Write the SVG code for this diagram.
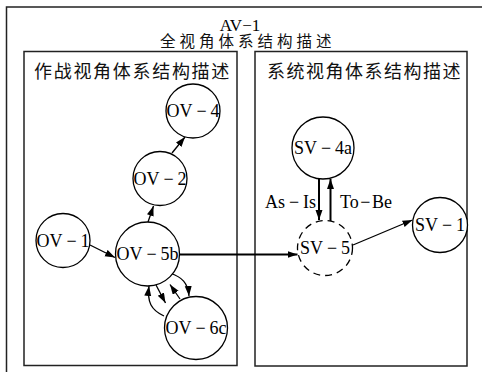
<svg xmlns="http://www.w3.org/2000/svg" width="482" height="372" viewBox="0 0 482 372">
<style>
.box{fill:none;stroke:#222;stroke-width:1.5}
.node{fill:#fff;stroke:#000;stroke-width:1.3}
.dash{stroke-dasharray:7,5}
.lbl{font-family:"Liberation Serif","Noto Sans CJK SC",serif;font-size:18px;fill:#000}
.cjk{font-family:"Noto Sans CJK SC","Noto Sans CJK JP",sans-serif;font-size:18px;fill:#111}
.e{fill:none;stroke:#000;stroke-width:1.3}
.eb{fill:none;stroke:#000;stroke-width:2}
</style>
<defs>
<marker id="ah" markerUnits="userSpaceOnUse" markerWidth="11" markerHeight="8" refX="10" refY="3.5" orient="auto">
<path d="M0,0 L10,3.5 L0,7 z" fill="#000"/>
</marker>
</defs>
<rect x="0" y="0" width="482" height="372" fill="#fff"/>
<g id="av1">
<rect class="box" x="6.5" y="7" width="490" height="380"/>
<text class="lbl" x="240" y="31" text-anchor="middle" style="font-size:17px">AV−1</text>
<text class="cjk" x="160" y="47" style="font-size:15.5px;letter-spacing:4px">全视角体系结构描述</text>
</g>
<g id="ov-box">
<rect class="box" x="24" y="51.5" width="213" height="314"/>
<text class="cjk" x="34" y="78" style="letter-spacing:1.7px">作战视角体系结构描述</text>
</g>
<g id="sv-box">
<rect class="box" x="255" y="51.5" width="212" height="314.5"/>
<text class="cjk" x="267" y="78" style="letter-spacing:1.5px">系统视角体系结构描述</text>
</g>
<g id="connectors">
<line class="e" x1="90" y1="245" x2="115" y2="257.5" marker-end="url(#ah)"/>
<line class="e" x1="148" y1="222" x2="153.5" y2="206" marker-end="url(#ah)"/>
<line class="e" x1="172" y1="153" x2="185" y2="137" marker-end="url(#ah)"/>
<line class="eb" x1="180" y1="254.5" x2="297.5" y2="254.5" marker-end="url(#ah)"/>
<line class="eb" x1="319" y1="178" x2="319" y2="220" marker-end="url(#ah)"/>
<line class="eb" x1="330.5" y1="221" x2="330.5" y2="179" marker-end="url(#ah)"/>
<line class="e" x1="353" y1="245" x2="412.5" y2="220" marker-end="url(#ah)"/>
<path class="e" d="M164,316 C151,310 147,302 149,286" marker-end="url(#ah)"/>
<line class="e" x1="156" y1="285" x2="165.5" y2="303" marker-end="url(#ah)"/>
<line class="e" x1="180" y1="299" x2="170" y2="284.5" marker-end="url(#ah)"/>
<path class="e" d="M170,273 C182,277 188,283 189,296" marker-end="url(#ah)"/>
<text class="lbl" x="316" y="208" text-anchor="end">As<tspan dx="3.9">−</tspan><tspan dx="3.9">Is</tspan></text>
<text class="lbl" x="340" y="208">To<tspan dx="1.5">−</tspan><tspan dx="1.5">Be</tspan></text>
</g>
<g id="OV-4">
<circle class="node" cx="193" cy="111" r="27"/>
<text class="lbl" x="193" y="117" text-anchor="middle">OV<tspan dx="3.9">−</tspan><tspan dx="3.9">4</tspan></text>
</g>
<g id="OV-2">
<circle class="node" cx="160" cy="178.5" r="27"/>
<text class="lbl" x="160" y="184.5" text-anchor="middle">OV<tspan dx="3.9">−</tspan><tspan dx="3.9">2</tspan></text>
</g>
<g id="OV-1">
<circle class="node" cx="63" cy="240.5" r="27"/>
<text class="lbl" x="63" y="246.5" text-anchor="middle">OV<tspan dx="3.9">−</tspan><tspan dx="3.9">1</tspan></text>
</g>
<g id="OV-5b">
<circle class="node" cx="147.5" cy="254" r="32"/>
<text class="lbl" x="147.5" y="260" text-anchor="middle">OV<tspan dx="3.9">−</tspan><tspan dx="3.9">5b</tspan></text>
</g>
<g id="OV-6c">
<circle class="node" cx="196" cy="328" r="31.5"/>
<text class="lbl" x="196" y="334" text-anchor="middle">OV<tspan dx="3.9">−</tspan><tspan dx="3.9">6c</tspan></text>
</g>
<g id="SV-4a">
<circle class="node" cx="323" cy="148" r="31"/>
<text class="lbl" x="323" y="154" text-anchor="middle">SV<tspan dx="3.9">−</tspan><tspan dx="3.9">4a</tspan></text>
</g>
<g id="SV-5">
<circle class="node dash" cx="325" cy="248" r="27.5"/>
<text class="lbl" x="325" y="254" text-anchor="middle">SV<tspan dx="3.9">−</tspan><tspan dx="3.9">5</tspan></text>
</g>
<g id="SV-1">
<circle class="node" cx="440" cy="225" r="27.5"/>
<text class="lbl" x="440" y="231" text-anchor="middle">SV<tspan dx="3.9">−</tspan><tspan dx="3.9">1</tspan></text>
</g>
</svg>
